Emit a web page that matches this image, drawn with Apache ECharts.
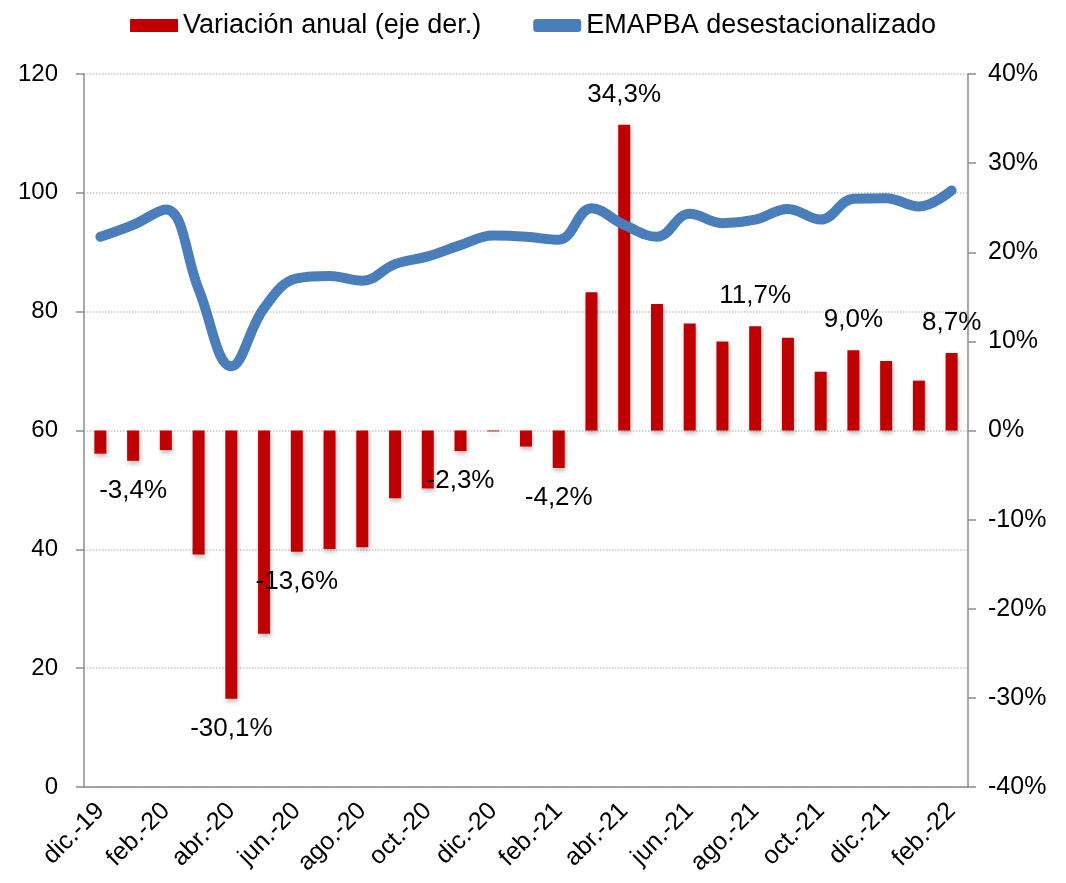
<!DOCTYPE html>
<html>
<head>
<meta charset="utf-8">
<script src="https://cdn.jsdelivr.net/npm/echarts@6/dist/echarts.min.js"></script>
<style>
  html, body { margin: 0; padding: 0; background: #fff; }
  #chart { width: 1066px; height: 883px; }
</style>
</head>
<body>
<div id="chart"></div>
<script>
const months = ['dic.-19', 'ene.-20', 'feb.-20', 'mar.-20', 'abr.-20', 'may.-20', 'jun.-20', 'jul.-20',
  'ago.-20', 'sep.-20', 'oct.-20', 'nov.-20', 'dic.-20', 'ene.-21', 'feb.-21', 'mar.-21', 'abr.-21',
  'may.-21', 'jun.-21', 'jul.-21', 'ago.-21', 'sep.-21', 'oct.-21', 'nov.-21', 'dic.-21', 'ene.-22', 'feb.-22']

// variación anual, % (eje derecho)
const variacion = [-2.6, -3.4, -2.2, -13.9, -30.1, -22.8, -13.6, -13.3, -13.1, -7.6, -6.5, -2.3, -0.1,
  -1.8, -4.2, 15.5, 34.3, 14.2, 12.0, 10.0, 11.7, 10.4, 6.6, 9.0, 7.8, 5.6, 8.7]

// EMAPBA desestacionalizado (eje izquierdo)
const emapba = [92.6, 94.6, 97.2, 83.8, 70.8, 80.6, 85.6, 86.0, 85.2, 88.0, 89.3, 91.2, 92.8,
  92.6, 92.1, 97.4, 94.6, 92.6, 96.5, 94.9, 95.5, 97.3, 95.5, 99.0, 99.1, 97.7, 100.4]

// barras con etiqueta visible
const labeled = [1, 4, 6, 11, 14, 16, 20, 23, 26]

const font = 'Arial, "Liberation Sans", sans-serif'
const fmt = v => v.toFixed(1).replace('.', ',') + '%'

const chart = echarts.init(document.getElementById('chart'))

chart.setOption({
  animation: false,
  textStyle: { fontFamily: font, color: '#000' },
  legend: {
    top: 7,
    left: 'center',
    itemWidth: 48,
    itemHeight: 13,
    itemGap: 52,
    textStyle: { fontSize: 27, color: '#000', fontFamily: font },
    data: [
      { name: 'Variación anual (eje der.)', icon: 'rect' },
      { name: 'EMAPBA desestacionalizado', icon: 'roundRect' }
    ]
  },
  grid: { left: 84, right: 98, top: 74, bottom: 96 },
  xAxis: {
    type: 'category',
    data: months,
    axisLine: { lineStyle: { color: '#8c8c8c', width: 1.5 } },
    axisTick: { interval: 1, length: 8, lineStyle: { color: '#8c8c8c', width: 1.5 } },
    axisLabel: { interval: 1, rotate: 45, fontSize: 25, color: '#000', margin: 20, fontFamily: font }
  },
  yAxis: [{
    type: 'value',
    min: 0, max: 120, interval: 20,
    axisLine: { show: true, lineStyle: { color: '#8c8c8c', width: 1.5 } },
    axisTick: { show: true, length: 8, lineStyle: { color: '#8c8c8c', width: 1.5 } },
    axisLabel: { fontSize: 24, color: '#000', margin: 26, fontFamily: font },
    splitLine: { lineStyle: { color: '#c8c8c8', type: 'dotted', width: 1.5 } }
  }, {
    type: 'value',
    min: -40, max: 40, interval: 10,
    position: 'right',
    axisLine: { show: true, lineStyle: { color: '#8c8c8c', width: 1.5 } },
    axisTick: { show: true, length: 8, lineStyle: { color: '#8c8c8c', width: 1.5 } },
    axisLabel: { fontSize: 25, color: '#000', margin: 20, formatter: '{value}%', fontFamily: font },
    splitLine: { show: false }
  }],
  series: [{
    name: 'Variación anual (eje der.)',
    type: 'bar',
    yAxisIndex: 1,
    barWidth: 12,
    itemStyle: {
      color: '#c00000',
      shadowColor: 'rgba(0,0,0,0.25)',
      shadowBlur: 4,
      shadowOffsetX: 1,
      shadowOffsetY: 3
    },
    data: variacion.map((v, i) => ({
      value: v,
      label: {
        show: labeled.includes(i),
        position: v < 0 ? 'bottom' : 'top',
        distance: 17,
        fontSize: 26,
        color: '#000',
        fontFamily: font,
        formatter: p => fmt(p.value)
      }
    }))
  }, {
    name: 'EMAPBA desestacionalizado',
    type: 'line',
    yAxisIndex: 0,
    smooth: 0.4,
    symbol: 'none',
    lineStyle: { color: '#4a7ebb', width: 10, cap: 'round', join: 'round' },
    itemStyle: { color: '#4a7ebb' },
    data: emapba,
    z: 3
  }]
})
</script>
</body>
</html>
